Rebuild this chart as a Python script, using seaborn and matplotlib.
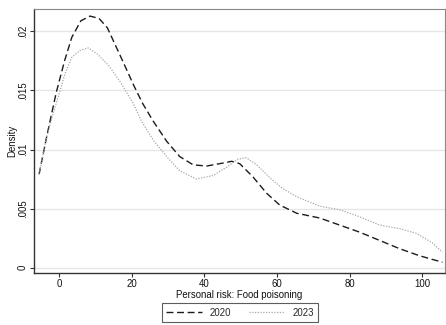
import matplotlib
matplotlib.use("Agg")
import matplotlib.pyplot as plt
import seaborn as sns
import pandas as pd
from matplotlib.lines import Line2D

# Data (kernel density estimates)
x2020 = [-5.5, -3.4, -0.8, 1.5, 3.5, 6.0, 8.5, 11.0, 13.3, 16.9, 20.6, 23.0, 25.9,
         29.6, 33.2, 36.9, 40.6, 44.2, 47.5, 49.7, 53.3, 57.1, 60.7, 65.4, 71.7,
         77.2, 82.7, 88.2, 93.7, 99.2, 105.5]
y2020 = [0.0079, 0.0111, 0.0148, 0.0175, 0.0195, 0.0209, 0.0213, 0.0211, 0.0203,
         0.0179, 0.0154, 0.0139, 0.0124, 0.0107, 0.0094, 0.0087, 0.0086, 0.0088,
         0.0090, 0.0088, 0.0077, 0.0063, 0.0053, 0.0046, 0.0042, 0.0036, 0.0030,
         0.0023, 0.0016, 0.0010, 0.00045]
x2023 = [-5.5, -3.4, -1.1, 0.3, 1.6, 3.5, 5.8, 8.0, 10.5, 13.7, 16.9, 20.6, 22.5,
         25.9, 29.6, 33.2, 37.8, 42.4, 46.1, 49.3, 51.5, 54.4, 58.0, 61.5, 65.4,
         71.7, 77.2, 82.7, 88.2, 93.7, 98.3, 102.7, 105.5]
y2023 = [0.0079, 0.0111, 0.0136, 0.0150, 0.0164, 0.0178, 0.0184, 0.0186, 0.0181,
         0.0171, 0.0157, 0.0138, 0.0125, 0.0108, 0.0094, 0.0082, 0.0075, 0.0078,
         0.0085, 0.0092, 0.0093, 0.0087, 0.0076, 0.0067, 0.0060, 0.0052, 0.0049,
         0.0043, 0.0036, 0.0033, 0.0029, 0.0021, 0.0013]
series_labels = ["2020", "2023"]
xticks = [0, 20, 40, 60, 80, 100]
yticks = [0, 0.005, 0.01, 0.015, 0.02]
ytick_labels = ["0", ".005", ".01", ".015", ".02"]
xlabel = "Personal risk: Food poisoning"
ylabel = "Density"

sns.set_style("white")
plt.rcParams["font.family"] = ["Liberation Sans", "DejaVu Sans"]
FS = 6.9

W, H = 446, 325
fig = plt.figure(figsize=(W / 100, H / 100), dpi=100)
fig.patch.set_facecolor("white")
left, right, top, bottom = 34, 445, 9, 273
ax = fig.add_axes([left / W, 1 - bottom / H, (right - left) / W, (bottom - top) / H])

df1 = pd.DataFrame({"x": x2020, "y": y2020})
df2 = pd.DataFrame({"x": x2023, "y": y2023})
sns.lineplot(data=df1, x="x", y="y", ax=ax, color="#1c1c1c", lw=1.0,
             linestyle=(0, (5, 2.6)), sort=False, estimator=None)
sns.lineplot(data=df2, x="x", y="y", ax=ax, color="#a8a8a8", lw=0.9,
             linestyle=(0, (1, 1.2)), sort=False, estimator=None)

ax.set_xlim(-6.9, 106.2)
ax.set_ylim(-0.00046, 0.0219)
ax.set_xticks(xticks)
ax.set_xticklabels([str(t) for t in xticks])
ax.set_yticks(yticks)
ax.set_yticklabels(ytick_labels, rotation=90, va="center")
ax.yaxis.grid(True, color="#e6e6e6", lw=1.0)
ax.xaxis.grid(False)
ax.set_axisbelow(True)
ax.tick_params(axis="both", direction="out", length=3, width=0.8, color="#333333",
               labelsize=FS, pad=1.5, left=True, bottom=True, labelcolor="#111111")
ax.set_xlabel(xlabel, fontsize=FS, labelpad=0.5, color="#111111")
ax.set_ylabel(ylabel, fontsize=FS, labelpad=0, color="#111111")
for s in ["left", "bottom"]:
    ax.spines[s].set_color("#333333")
    ax.spines[s].set_linewidth(1.0)
for s in ["top", "right"]:
    ax.spines[s].set_color("#888888")
    ax.spines[s].set_linewidth(0.8)

handles = [Line2D([], [], color="#1c1c1c", lw=1.0, linestyle=(0, (5, 2.6))),
           Line2D([], [], color="#a8a8a8", lw=0.9, linestyle=(0, (1, 1.2)))]
leg = fig.legend(handles, series_labels, loc="center", ncol=2,
                 bbox_to_anchor=(240 / W, 1 - 312.5 / H), fontsize=FS,
                 frameon=True, fancybox=False, handlelength=3.7,
                 columnspacing=1.8, handletextpad=0.85, borderpad=0.45,
                 borderaxespad=0)
leg.get_frame().set_edgecolor("#333333")
leg.get_frame().set_linewidth(0.8)

fig.savefig("out.png", dpi=100, facecolor="white")
